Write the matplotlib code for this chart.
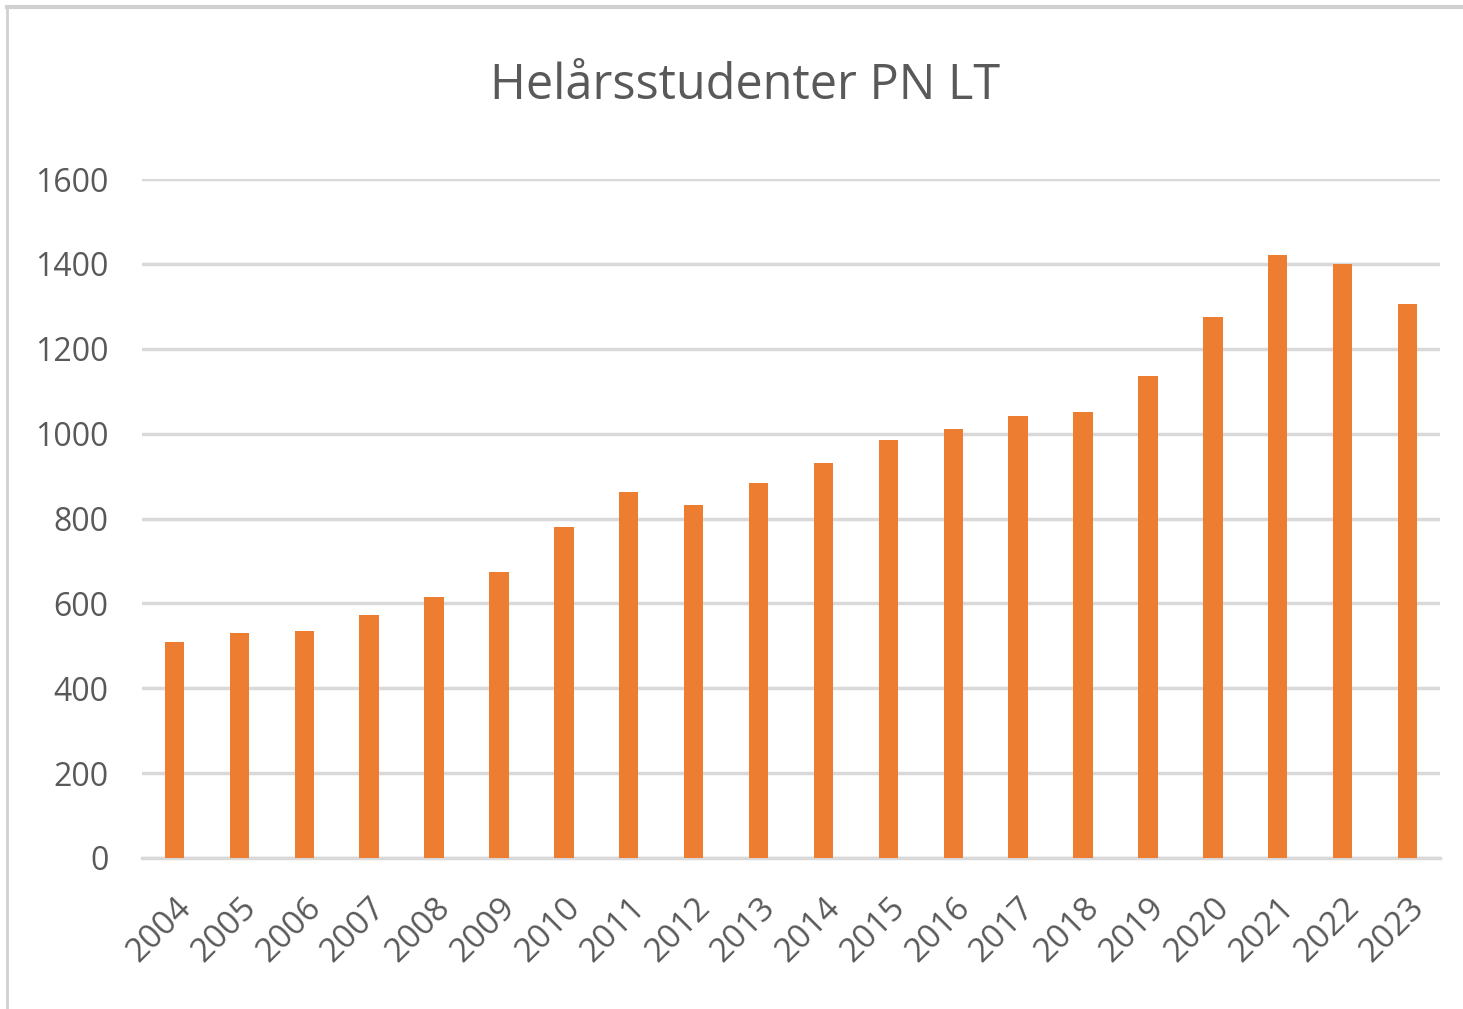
import matplotlib
matplotlib.use("Agg")
import matplotlib.pyplot as plt
from matplotlib.lines import Line2D

years = [str(y) for y in range(2004, 2024)]
students = [510, 531, 536, 573, 616, 673, 779, 863, 831, 884,
            931, 984, 1010, 1042, 1052, 1136, 1274, 1421, 1400, 1305]
yticks = [0, 200, 400, 600, 800, 1000, 1200, 1400, 1600]

ORANGE = "#ED7D31"
GRID = "#d9d9d9"
TEXT = "#595959"
plt.rcParams["font.family"] = ["Open Sans", "DejaVu Sans"]

fig = plt.figure(figsize=(14.63, 10.09), dpi=100)
ax = fig.add_axes([142 / 1463, 1 - 858 / 1009, 1298 / 1463, 679 / 1009])

x = range(len(years))
ax.bar(x, students, width=0.3, color=ORANGE, zorder=3)
ax.set_xlim(-0.5, len(years) - 0.5)
ax.set_ylim(0, 1600)
ax.set_yticks(yticks)
ax.set_yticklabels([str(v) for v in yticks], fontsize=23, color=TEXT)
ax.set_xticks(list(x))
ax.set_xticklabels(years, fontsize=24, color=TEXT, rotation=45,
                   ha="right", rotation_mode="anchor")
ax.tick_params(axis="y", length=0, pad=24)
ax.tick_params(axis="x", length=0, pad=24)
ax.grid(axis="y", color=GRID, lw=2.5, zorder=0)
for s in ("top", "right", "left"):
    ax.spines[s].set_visible(False)
ax.spines["bottom"].set_color(GRID)
ax.spines["bottom"].set_linewidth(2.5)

fig.text(745 / 1463, 1 - 86 / 1009, "Helårsstudenter PN LT", fontsize=35,
         color=TEXT, ha="center", va="center")

# outer chart frame (top and left edges visible)
fig.add_artist(Line2D([7 / 1463, 1], [1 - 7 / 1009] * 2, color="#d0d0d0",
                      lw=3, transform=fig.transFigure))
fig.add_artist(Line2D([7 / 1463] * 2, [0, 1 - 7 / 1009], color="#d0d0d0",
                      lw=2, transform=fig.transFigure))

fig.savefig("out.png", dpi=100)
